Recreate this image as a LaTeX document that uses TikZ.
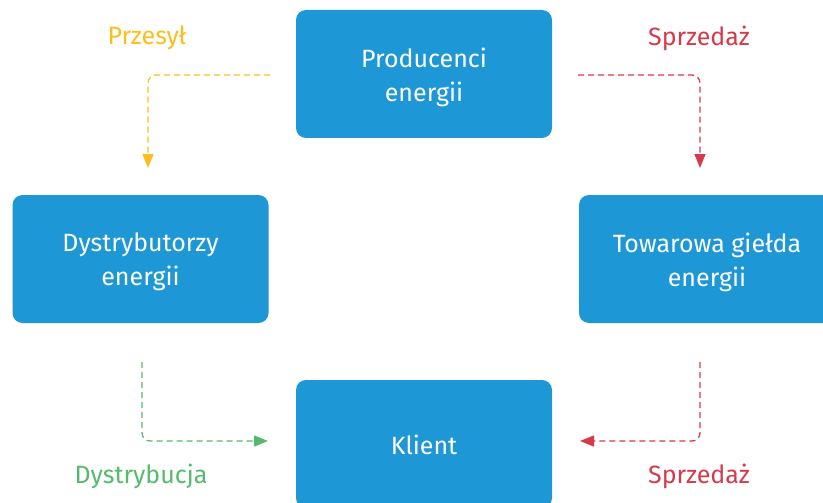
\documentclass[tikz,border=0pt]{standalone}
\usepackage{fontspec}
\setmainfont{Fira Sans}
\usetikzlibrary{arrows.meta}
\definecolor{boxblue}{HTML}{1D97D5}
\definecolor{cyel}{HTML}{FDBE1B}
\definecolor{cred}{HTML}{D63A4A}
\definecolor{cgreen}{HTML}{55BA6C}
\tikzset{
  box/.style={fill=boxblue, rounded corners=10pt, minimum width=256pt, minimum height=128pt,
    inner sep=0pt, text=white, align=center, font=\fontsize{25}{34}\selectfont},
  lbl/.style={font=\fontsize{25}{28}\selectfont, inner sep=0pt},
  flow/.style={line width=1.3pt, dash pattern=on 6pt off 4pt, rounded corners=8pt,
    -{Triangle[length=14pt,width=11pt]}},
}
\begin{document}
\begin{tikzpicture}[x=1pt,y=-1pt]
\useasboundingbox (0,0) rectangle (823,503);
\clip (0,0) rectangle (823,503);
\node[box] (prod) at (424,74) {};
\node[box] (dyst) at (140.5,259) {};
\node[box] (tow) at (707,259) {};
\node[box] (kli) at (424,444) {};
\node[box, fill=none, minimum width=0pt, minimum height=0pt] (tprod) at (424,77) {Producenci\\energii};
\node[box, fill=none, minimum width=0pt, minimum height=0pt] (tdyst) at (140.5,262) {Dystrybutorzy\\energii};
\node[box, fill=none, minimum width=0pt, minimum height=0pt] (ttow) at (707,262) {Towarowa giełda\\energii};
\node[box, fill=none, minimum width=0pt, minimum height=0pt] (tkli) at (424,445) {Klient};
\node[lbl, text=cyel] (l1) at (147,38) {Przesył};
\node[lbl, text=cred] (l2) at (699,38) {Sprzedaż};
\node[lbl, text=cgreen] (l3) at (141,476) {Dystrybucja};
\node[lbl, text=cred] (l4) at (699,476) {Sprzedaż};
\coordinate (a1) at (270,75);
\coordinate (a1e) at (148,168);
\coordinate (a2) at (578,75);
\coordinate (a2e) at (700,168);
\coordinate (a3) at (142,362);
\coordinate (a3e) at (268,441);
\coordinate (a4) at (700,362);
\coordinate (a4e) at (580,441);
\draw[flow, cyel] (a1) -| (a1e);
\draw[flow, cred] (a2) -| (a2e);
\draw[flow, cgreen] (a3) |- (a3e);
\draw[flow, cred] (a4) |- (a4e);
\end{tikzpicture}
\end{document}
